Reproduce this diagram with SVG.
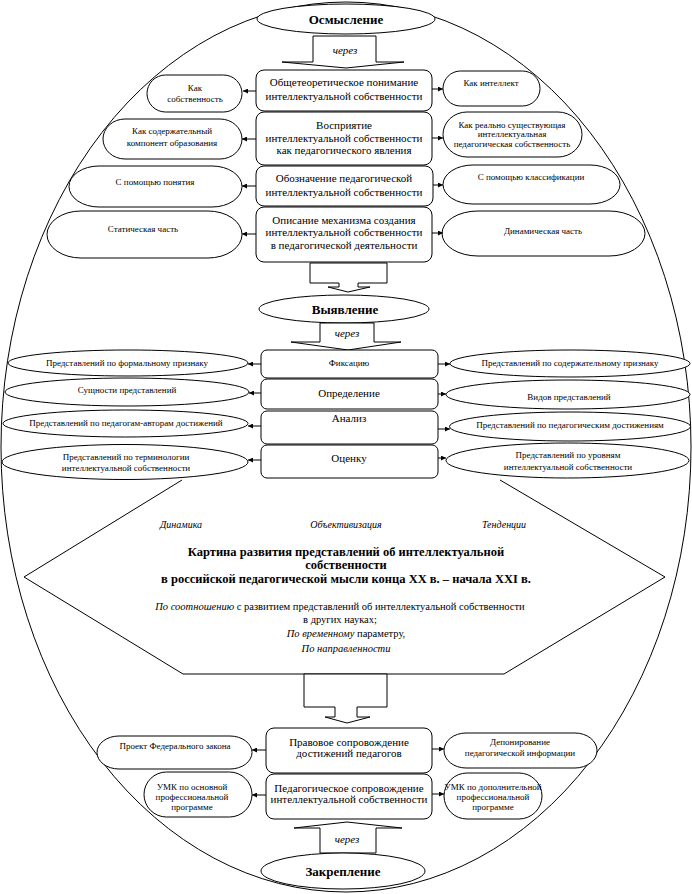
<svg xmlns="http://www.w3.org/2000/svg" width="692" height="894" viewBox="0 0 692 894">
<style>
.n{fill:#fff;stroke:#000;stroke-width:1}
.o{fill:none;stroke:#000;stroke-width:1}
.c{stroke:#000;stroke-width:1;fill:none;marker-end:url(#ah)}
text{font-family:"Liberation Serif","Times New Roman",serif;fill:#000;text-anchor:middle}
.s{font-size:9px}
.m{font-size:11px}
.h{font-size:13px;font-weight:bold}
.i{font-style:italic}
.b{font-weight:bold;font-size:12.5px}
.l{font-size:10.5px}
.k{font-size:10px}
</style>
<defs>
<marker id="ah" viewBox="0 0 6 6" refX="6" refY="3" markerWidth="5" markerHeight="5" markerUnits="userSpaceOnUse" orient="auto">
<path d="M0,0 L6,3 L0,6 Z" fill="#000"/>
</marker>
</defs>
<rect width="692" height="894" fill="#fff"/>
<ellipse id="outer" class="n" cx="346" cy="447" rx="345" ry="445"/>
<polyline id="hexagon" class="o" points="182,480 24,577 183,674 504,674 665,577 500,480"/>

<g id="osmyslenie"><ellipse class="n" cx="346" cy="19" rx="89" ry="15"/><text class="h" x="346" y="24">Осмысление</text></g>
<g id="cherez1"><path class="n" d="M313,36 H376 V62 H404 L346,68 L282,62 H313 Z"/><text class="m i" x="345" y="54">через</text></g>

<g id="b1"><rect class="n" x="256" y="70" width="176" height="41" rx="8"/><text class="m" x="344" y="86">Общетеоретическое понимание</text><text class="m" x="344" y="100">интеллектуальной собственности</text></g>
<g id="b2"><rect class="n" x="256" y="112" width="176" height="53" rx="8"/><text class="m" x="344" y="129">Восприятие</text><text class="m" x="344" y="142">интеллектуальной собственности</text><text class="m" x="344" y="154">как педагогического явления</text></g>
<g id="b3"><rect class="n" x="256" y="166" width="177" height="40" rx="8"/><text class="m" x="344" y="182">Обозначение педагогической</text><text class="m" x="344" y="196">интеллектуальной собственности</text></g>
<g id="b4"><rect class="n" x="256" y="207" width="176" height="55" rx="8"/><text class="m" x="344" y="224">Описание механизма создания</text><text class="m" x="344" y="236">интеллектуальной собственности</text><text class="m" x="344" y="249">в педагогической деятельности</text></g>

<g id="l1"><rect class="n" x="147" y="75" width="95" height="37" rx="18.5"/><text class="s" x="195" y="91">Как</text><text class="s" x="195" y="102">собственность</text></g>
<g id="l2"><rect class="n" x="103" y="119" width="139" height="40" rx="22" ry="20"/><text class="s" x="172" y="134">Как содержательный</text><text class="s" x="172" y="146">компонент образования</text></g>
<g id="l3"><rect class="n" x="69" y="166" width="173" height="41" rx="30" ry="20.5"/><text class="s" x="155" y="185">С помощью понятия</text></g>
<g id="l4"><rect class="n" x="47" y="211" width="195" height="47" rx="34" ry="23.5"/><text class="s" x="143" y="232">Статическая часть</text></g>
<g id="r1"><rect class="n" x="443" y="71" width="97" height="35" rx="17.5"/><text class="s" x="491" y="86">Как интеллект</text></g>
<g id="r2"><rect class="n" x="443" y="112" width="139" height="45" rx="24" ry="22.5"/><text class="s" x="512" y="128">Как реально существующая</text><text class="s" x="512" y="137">интеллектуальная</text><text class="s" x="512" y="147">педагогическая собственность</text></g>
<g id="r3"><rect class="n" x="443" y="165" width="177" height="39" rx="30" ry="19.5"/><text class="s" x="531" y="180">С помощью классификации</text></g>
<g id="r4"><rect class="n" x="442" y="211" width="203" height="45" rx="36" ry="22.5"/><text class="s" x="543" y="234">Динамическая часть</text></g>

<g id="arrow2"><path class="n" d="M310,263 V283 H339 V287 H328 L348,292 L370,287 H358 V283 H387 V263 Z"/></g>
<g id="vyyavlenie"><ellipse class="n" cx="344" cy="309" rx="85" ry="14"/><text class="h" x="345" y="314">Выявление</text></g>
<g id="cherez2"><path class="n" d="M320,323 V342 H291 L348,350 L401,342 H374 V323 Z"/><text class="m i" x="347" y="337">через</text></g>

<g id="fx"><rect class="n" x="261" y="350" width="177" height="28" rx="6"/><text class="s" x="349" y="366">Фиксацию</text></g>
<g id="op"><rect class="n" x="261" y="379" width="177" height="30" rx="6"/><text class="m" x="349" y="397">Определение</text></g>
<g id="an"><rect class="n" x="261" y="411" width="177" height="33" rx="6"/><text class="m" x="349" y="422">Анализ</text></g>
<g id="oc"><rect class="n" x="261" y="445" width="177" height="33" rx="6"/><text class="m" x="349" y="462">Оценку</text></g>

<g id="e1"><ellipse class="n" cx="128" cy="363" rx="120" ry="13"/><text class="s" x="127" y="366">Представлений по формальному признаку</text></g>
<g id="e2"><ellipse class="n" cx="127" cy="392" rx="122" ry="14"/><text class="s" x="127" y="393">Сущности представлений</text></g>
<g id="e3"><ellipse class="n" cx="125.5" cy="423.5" rx="122.5" ry="13.5"/><text class="s" x="126" y="426">Представлений по педагогам-авторам достижений</text></g>
<g id="e4"><ellipse class="n" cx="125" cy="462" rx="123" ry="17.5"/><text class="s" x="126" y="460">Представлений по терминологии</text><text class="s" x="126" y="471">интеллектуальной собственности</text></g>
<g id="f1"><ellipse class="n" cx="570" cy="363.5" rx="120" ry="13.5"/><text class="s" x="570" y="366">Представлений по содержательному признаку</text></g>
<g id="f2"><ellipse class="n" cx="568" cy="394.5" rx="122" ry="14.5"/><text class="s" x="569" y="400">Видов представлений</text></g>
<g id="f3"><ellipse class="n" cx="570" cy="426.5" rx="120.5" ry="14.5"/><text class="s" x="570" y="428">Представлений по педагогическим достижениям</text></g>
<g id="f4"><ellipse class="n" cx="567.5" cy="460.5" rx="121.5" ry="17.5"/><text class="s" x="568" y="458">Представлений по уровням</text><text class="s" x="568" y="470">интеллектуальной собственности</text></g>

<g id="kartina">
<text class="k i" x="181" y="528">Динамика</text>
<text class="k i" x="346" y="528">Объективизация</text>
<text class="k i" x="504" y="528">Тенденции</text>
<text class="b" x="346" y="556">Картина развития представлений об интеллектуальной</text>
<text class="b" x="346" y="569">собственности</text>
<text class="b" x="346" y="583">в российской педагогической мысли конца XX в. – начала XXI в.</text>
<text class="l" x="340" y="610"><tspan class="i">По соотношению</tspan> с развитием представлений об интеллектуальной собственности</text>
<text class="l" x="340" y="623">в других науках;</text>
<text class="l" x="346" y="637"><tspan class="i">По временному</tspan> параметру,</text>
<text class="l i" x="346" y="652">По направленности</text>
</g>

<g id="arrow3"><path class="n" d="M304,674 V707 H335 V717 H325 L347,723 L370,717 H357 V707 H387 V674 Z"/></g>

<g id="pravovoe"><rect class="n" x="266" y="728" width="166" height="45" rx="8"/><text class="m" x="349" y="746">Правовое сопровождение</text><text class="m" x="349" y="757">достижений педагогов</text></g>
<g id="pedagog"><rect class="n" x="266" y="774" width="166" height="45" rx="8"/><text class="m" x="349" y="792">Педагогическое сопровождение</text><text class="m" x="349" y="803">интеллектуальной собственности</text></g>
<g id="p1"><rect class="n" x="97" y="736" width="155" height="33" rx="22" ry="16.5"/><text class="s" x="175" y="749">Проект Федерального закона</text></g>
<g id="p2"><rect class="n" x="144" y="772" width="108" height="45" rx="22.5"/><text class="s" x="192" y="790">УМК по основной</text><text class="s" x="192" y="800">профессиональной</text><text class="s" x="192" y="810">программе</text></g>
<g id="q1"><rect class="n" x="444" y="733" width="153" height="35" rx="22" ry="17.5"/><text class="s" x="520" y="745">Депонирование</text><text class="s" x="520" y="756">педагогической информации</text></g>
<g id="q2"><rect class="n" x="444" y="773" width="98" height="46" rx="23"/><text class="s" x="493" y="790">УМК по дополнительной</text><text class="s" x="493" y="800">профессиональной</text><text class="s" x="493" y="810">программе</text></g>

<g id="cherez3"><path class="n" d="M320,853 V828 H294 L347,822 L402,828 H376 V853 Z"/><text class="m i" x="347" y="843">через</text></g>
<g id="zakreplenie"><ellipse class="n" cx="343" cy="871" rx="82" ry="18"/><text class="h" x="343" y="876">Закрепление</text></g>

<g id="connectors">
<line class="c" x1="256" y1="91" x2="243" y2="91"/>
<line class="c" x1="432" y1="89" x2="443" y2="89"/>
<line class="c" x1="256" y1="139" x2="242" y2="139"/>
<line class="c" x1="432" y1="138" x2="443" y2="138"/>
<line class="c" x1="256" y1="186" x2="242" y2="186"/>
<line class="c" x1="433" y1="185" x2="443" y2="185"/>
<line class="c" x1="256" y1="234" x2="242" y2="234"/>
<line class="c" x1="432" y1="233" x2="443" y2="233"/>
<line class="c" x1="261" y1="364" x2="248" y2="364"/>
<line class="c" x1="438" y1="364" x2="450" y2="364"/>
<line class="c" x1="261" y1="393" x2="249" y2="393"/>
<line class="c" x1="438" y1="394" x2="446" y2="394"/>
<line class="c" x1="261" y1="426" x2="248" y2="426"/>
<line class="c" x1="438" y1="429" x2="450" y2="429"/>
<line class="c" x1="261" y1="460" x2="248" y2="460"/>
<line class="c" x1="438" y1="458" x2="446" y2="458"/>
<line class="c" x1="266" y1="750" x2="252" y2="750"/>
<line class="c" x1="432" y1="749" x2="444" y2="749"/>
<line class="c" x1="266" y1="795" x2="252" y2="795"/>
<line class="c" x1="432" y1="794" x2="444" y2="794"/>
</g>
</svg>
